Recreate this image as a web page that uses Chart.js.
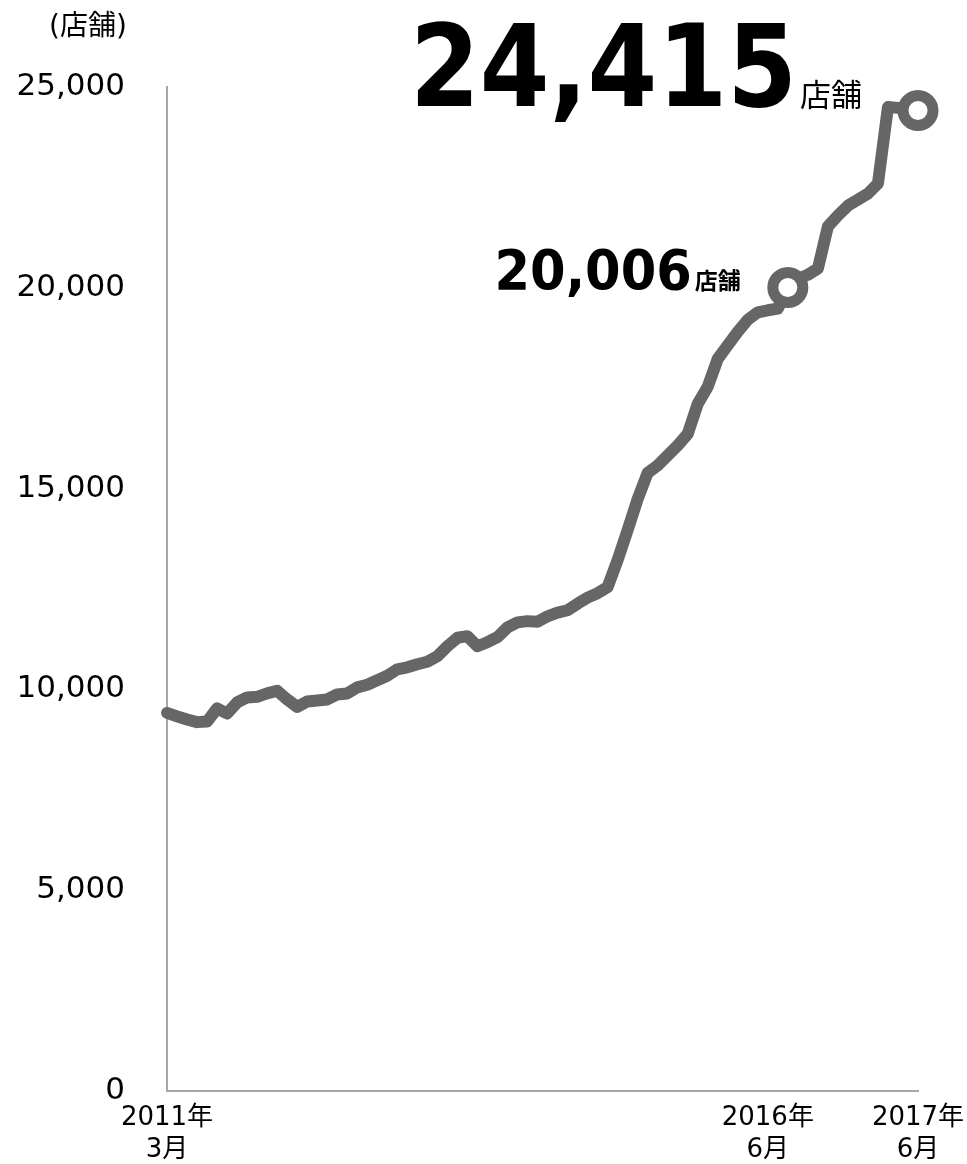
<!DOCTYPE html>
<html lang="ja">
<head>
<meta charset="UTF-8">
<title>店舗数の推移</title>
<script src="https://cdn.jsdelivr.net/npm/chart.js@4/dist/chart.umd.min.js"></script>
<style>
  html, body { margin: 0; padding: 0; background: #fff; }
  #wrap { width: 967px; height: 1164px; }
</style>
</head>
<body>
<div id="wrap"><canvas id="canvas"></canvas></div>
<script>
// 店舗数 (月次, 2011年3月 -> 2017年6月)
var stores = [9415, 9330, 9250, 9185, 9200, 9525, 9400, 9675, 9800, 9815,
  9900, 9965, 9750, 9565, 9700, 9725, 9750, 9875, 9900, 10050,
  10115, 10225, 10340, 10500, 10550, 10625, 10690, 10825, 11075, 11285,
  11325, 11075, 11175, 11300, 11545, 11670, 11700, 11685, 11820, 11910,
  11970, 12135, 12285, 12395, 12545, 13220, 13965, 14740, 15390, 15575,
  15825, 16075, 16360, 17110, 17535, 18230, 18570, 18905, 19205, 19390,
  19440, 19480, 20006, 20225, 20325, 20475, 21525, 21800, 22045, 22195,
  22345, 22595, 24500, 24480, 24440, 24415];

var categories = stores.map(function (v, i) { return String(i); });

// x軸に出す目盛り
var tickAt = [0, 60, 75];
var tickText = [['2011年', '3月'], ['2016年', '6月'], ['2017年', '6月']];

// 丸印と数値を付ける点
var markAt = [62, 75];

var lineColor = '#666666';
var fontFam = '"DejaVu Sans", "Noto Sans CJK JP", sans-serif';

var notePlugin = {
  id: 'notes',
  afterDraw: function (chart) {
    var c = chart.ctx;
    var pts = chart.getDatasetMeta(0).data;
    c.save();
    c.fillStyle = '#000';
    c.textBaseline = 'alphabetic';

    c.font = '28px ' + fontFam;
    c.textAlign = 'center';
    c.fillText('(店舗)', 88, 35);

    // 2016年6月 の注記
    var p = pts[markAt[0]];
    drawNote(c, stores[markAt[0]], p.x - 47, p.y + 1, 55, 0.93, 'bold 23px ' + fontFam);
    // 最新値
    p = pts[markAt[1]];
    drawNote(c, stores[markAt[1]], p.x - 56, p.y - 4, 114, 0.88, '31px ' + fontFam);
    c.restore();
  }
};

function drawNote(c, val, right, base, size, sx, sufFont) {
  c.textAlign = 'right';
  c.font = sufFont;
  c.fillText('店舗', right, base);
  var w = c.measureText('店舗').width;
  c.save();
  c.translate(right - w - 3, base);
  c.scale(sx, 1);
  c.font = 'bold ' + size + 'px ' + fontFam;
  c.fillText(val.toLocaleString('en-US'), 0, 0);
  c.restore();
}

var ctx = document.getElementById('canvas').getContext('2d');
var chart = new Chart(ctx, {
  type: 'line',
  data: {
    labels: categories,
    datasets: [{
      data: stores,
      borderColor: lineColor,
      borderWidth: 12,
      borderJoinStyle: 'round',
      borderCapStyle: 'round',
      tension: 0,
      fill: false,
      clip: false,
      pointRadius: function (c) { return markAt.indexOf(c.dataIndex) >= 0 ? 15 : 0; },
      pointHoverRadius: function (c) { return markAt.indexOf(c.dataIndex) >= 0 ? 15 : 0; },
      pointBackgroundColor: '#ffffff',
      pointBorderColor: lineColor,
      pointBorderWidth: 11,
      pointHoverBorderWidth: 11
    }]
  },
  options: {
    responsive: true,
    maintainAspectRatio: false,
    animation: false,
    events: [],
    layout: { padding: { top: 87, right: 49, left: 0, bottom: 0 } },
    plugins: {
      legend: { display: false },
      tooltip: { enabled: false }
    },
    scales: {
      x: {
        type: 'category',
        grid: { display: false, drawTicks: false },
        border: { display: true, color: '#a6a6a6', width: 2 },
        ticks: {
          autoSkip: false,
          maxRotation: 0,
          minRotation: 0,
          padding: 12,
          color: '#000',
          font: { family: fontFam, size: 26, lineHeight: 1.2 },
          callback: function (v, i) {
            var k = tickAt.indexOf(i);
            return k >= 0 ? tickText[k] : '';
          }
        },
        afterFit: function (s) {
          s.height = 73;
          s.paddingLeft = 0;
          s.paddingRight = 0;
        }
      },
      y: {
        min: 0,
        max: 25000,
        grid: { display: false, drawTicks: false },
        border: { display: true, color: '#a6a6a6', width: 2 },
        ticks: {
          stepSize: 5000,
          padding: 42,
          color: '#000',
          font: { family: fontFam, size: 31 },
          callback: function (v) { return v.toLocaleString('en-US'); }
        },
        afterFit: function (s) { s.width = 167; }
      }
    }
  },
  plugins: [notePlugin]
});
</script>
</body>
</html>
